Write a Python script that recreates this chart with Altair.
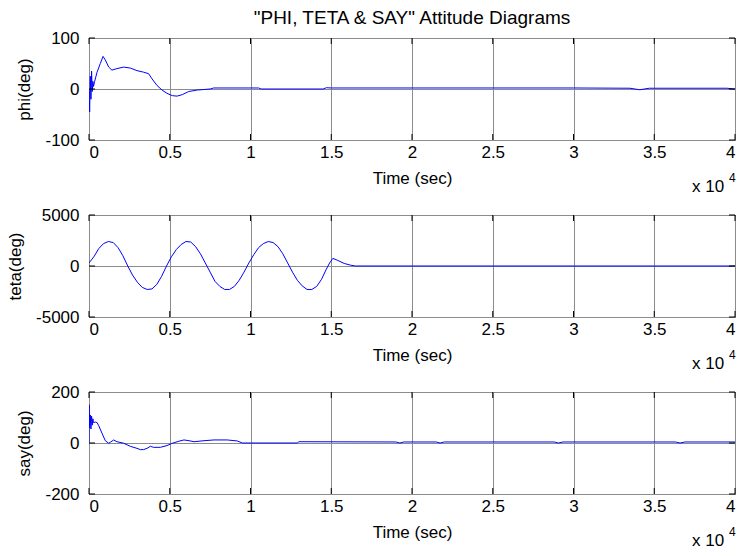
import altair as alt
import pandas as pd

# ---------------- data (time in seconds) ----------------
phi_t = [0, 40, 80, 120, 160, 200, 240, 280, 350, 500, 700, 870, 1010, 1220, 1420,
         1730, 2150, 2560, 2970, 3380, 3690, 3900, 4210, 4520, 4830, 5160, 5450,
         5780, 6170, 6700, 7120, 7500, 7720, 10500, 10650, 14500, 14700, 15000,
         20000, 30000, 33500, 34100, 34700, 39500, 40000]
phi_v = [0, -45, 25, -20, 35, -5, 15, 5, 15, 33, 50, 64, 57, 43, 37,
         40, 43, 41, 36, 33, 30, 20, 7, -2, -8.5, -13, -14,
         -11, -5, -2, -1, 0, 2, 2, 0, 0, 2.5, 2,
         2, 2, 1.5, -1.5, 1.5, 1.5, 0]

teta_t = [0, 300, 600, 900, 1200, 1500, 1800, 2100, 2400, 2700, 3000, 3300, 3600,
          3900, 4200, 4500, 4800, 5100, 5400, 5700, 6000, 6300, 6600, 6900, 7200,
          7500, 7800, 8100, 8400, 8700, 9000, 9300, 9600, 9900, 10200, 10500,
          10800, 11100, 11400, 11700, 12000, 12300, 12600, 12900, 13200, 13500,
          13800, 14100, 14400, 14700, 14900, 15100, 15400, 15800, 16200, 16500,
          40000]
teta_v = [300, 900, 1700, 2200, 2400, 2300, 1800, 1000, 0, -900, -1600, -2100, -2300,
          -2250, -1800, -1000, 0, 900, 1600, 2100, 2400, 2350, 1900, 1200, 300,
          -600, -1500, -2000, -2300, -2300, -2000, -1400, -600, 300, 1100, 1800,
          2200, 2400, 2300, 1900, 1200, 300, -600, -1400, -1950, -2300,
          -2300, -2000, -1300, -300, 300, 750, 550, 250, 80, 0,
          0]

say_t = [0, 10, 40, 80, 120, 160, 200, 240, 280, 400, 500, 600, 800, 1010, 1220,
         1320, 1530, 1730, 2150, 2560, 2970, 3180, 3380, 3590, 3800, 4000, 4420,
         4830, 5160, 5570, 5880, 6190, 6500, 7120, 7740, 8560, 9180, 9500, 12900,
         13000, 19000, 19250, 19500, 21500, 21740, 22000, 28800, 29070, 29350,
         36300, 36600, 36900, 40000]
say_v = [0, 150, 60, 110, 55, 105, 70, 95, 80, 82, 80, 68, 39, 9, -1,
         3, 12, 5, -1, -13, -21, -26, -26, -21, -13, -17, -17,
         -10, -1, 7, 12, 9, 5, 9, 12, 12, 8, 0, 0,
         5, 4, 0, 4, 4, 0, 4, 4, 0, 4,
         4, 0, 4, 4]

x_ticks = [0, 5000, 10000, 15000, 20000, 25000, 30000, 35000, 40000]
title_text = '"PHI, TETA & SAY" Attitude Diagrams'

W, H = 646, 102
FONT = "Liberation Sans"
BLUE = "#0000ff"
TICK = 6


def panel(times, values, field, ytitle, ydomain, yticks, title=None):
    df = pd.DataFrame({"t": times, field: values})
    xs = alt.Scale(domain=[0, 40000], nice=False, zero=False)
    ys = alt.Scale(domain=ydomain, nice=False, zero=False)
    xaxis = alt.Axis(values=x_ticks, labelExpr="toString(datum.value/10000)",
                     title="Time (sec)", labelPadding=4, titlePadding=10,
                     grid=True, ticks=False, domain=False)
    yaxis = alt.Axis(values=yticks, labelExpr="toString(datum.value)",
                     title=ytitle, labelPadding=10, titlePadding=11,
                     grid=True, ticks=False, domain=False)
    X = alt.X("t:Q", scale=xs, axis=xaxis)
    Y = alt.Y(f"{field}:Q", scale=ys, axis=yaxis)
    line = alt.Chart(df).mark_line(color=BLUE, strokeWidth=1, clip=True).encode(x=X, y=Y)
    tdf = pd.DataFrame({"t": x_ticks})
    top_ticks = alt.Chart(tdf).mark_rule(color="black", strokeWidth=1).encode(
        x=X, y=alt.value(0), y2=alt.value(TICK))
    bot_ticks = alt.Chart(tdf).mark_rule(color="black", strokeWidth=1).encode(
        x=X, y=alt.value(H), y2=alt.value(H - TICK))
    ydf = pd.DataFrame({field: yticks})
    l_ticks = alt.Chart(ydf).mark_rule(color="black", strokeWidth=1).encode(
        y=Y, x=alt.value(0), x2=alt.value(TICK))
    r_ticks = alt.Chart(ydf).mark_rule(color="black", strokeWidth=1).encode(
        y=Y, x=alt.value(W - TICK), x2=alt.value(W))
    one = alt.Data(values=[{"s": "x 10", "e": "4"}])
    mult = alt.Chart(one).mark_text(font=FONT, fontSize=17, align="left",
                                    baseline="middle", color="black").encode(
        x=alt.value(W - 43), y=alt.value(H + 47), text="s:N")
    expo = alt.Chart(one).mark_text(font=FONT, fontSize=12, align="left",
                                    baseline="middle", color="black").encode(
        x=alt.value(W - 6), y=alt.value(H + 38), text="e:N")
    ch = alt.layer(line, top_ticks, bot_ticks, l_ticks, r_ticks, mult, expo).properties(
        width=W, height=H)
    if title:
        ch = ch.properties(title=alt.TitleParams(
            title, font=FONT, fontSize=19, fontWeight="normal", anchor="middle",
            color="black", offset=1))
    return ch


p1 = panel(phi_t, phi_v, "phi", "phi(deg)", [-100, 100], [-100, 0, 100], title_text)
p2 = panel(teta_t, teta_v, "teta", "teta(deg)", [-5000, 5000], [-5000, 0, 5000])
p3 = panel(say_t, say_v, "say", "say(deg)", [-200, 200], [-200, 0, 200])

chart = alt.vconcat(p1, p2, p3, spacing=9).properties(
    padding={"left": 6, "top": 8, "right": 0, "bottom": 0},
    background="white",
).configure_view(stroke="black", strokeWidth=1).configure_axis(
    labelFont=FONT, labelFontSize=17, labelColor="black",
    titleFont=FONT, titleFontSize=17, titleFontWeight="normal", titleColor="black",
    gridColor="#8c8c8c", gridWidth=1, gridOpacity=1,
)

chart.save("out.html", embed_options={"renderer": "svg", "actions": False})
